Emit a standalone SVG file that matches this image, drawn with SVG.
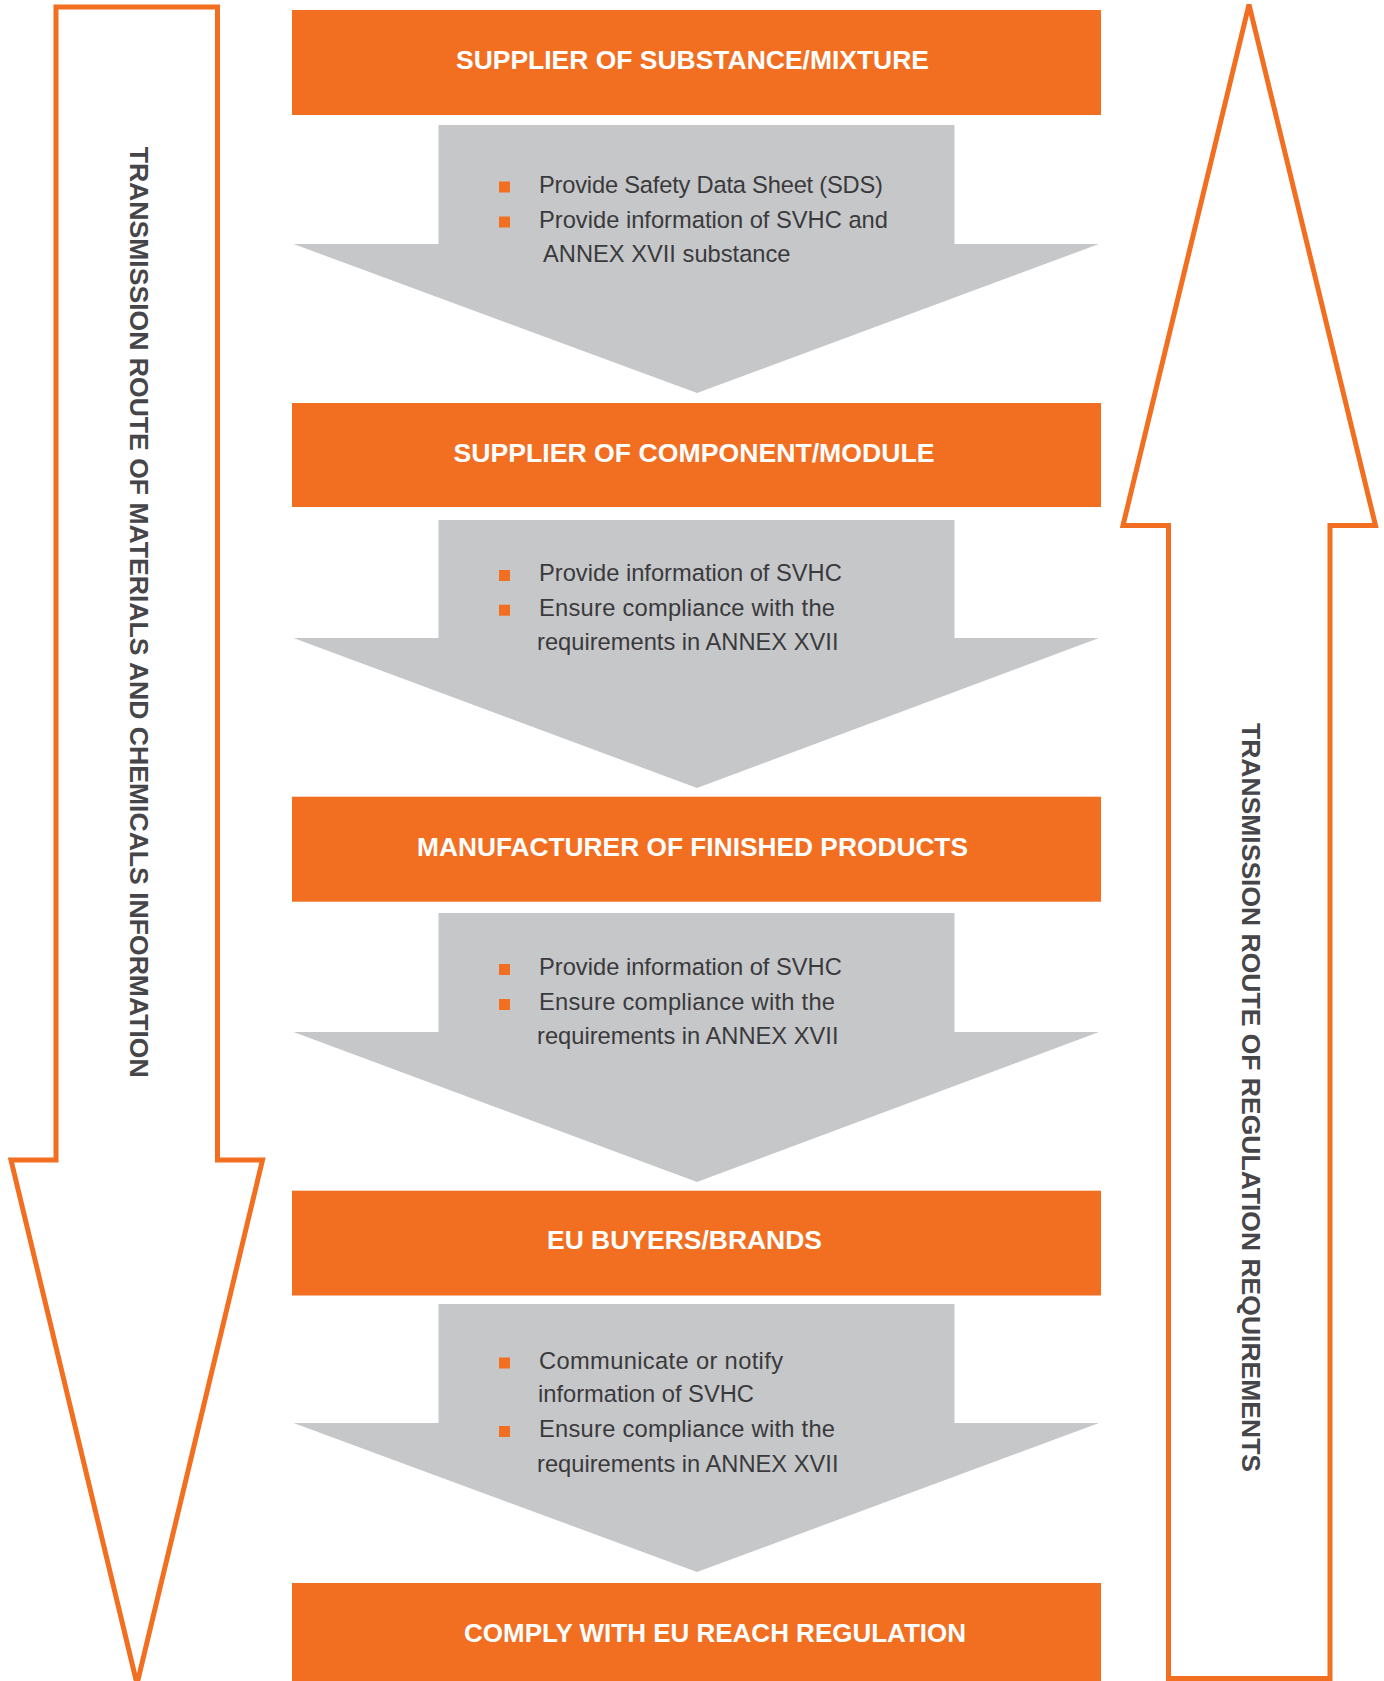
<svg xmlns="http://www.w3.org/2000/svg" width="1384" height="1681" viewBox="0 0 1384 1681">
<style>
.box{fill:#F26F22}
.chev{fill:#C6C7C9}
.side{fill:#FFFFFF;stroke:#F26F22;stroke-width:5}
.hdr{font-family:"Liberation Sans",Arial,sans-serif;font-weight:bold;font-size:26px;fill:#FFFFFF}
.body{font-family:"Liberation Sans",Arial,sans-serif;font-size:23.7px;fill:#3A3A3C}
.vert{font-family:"Liberation Sans",Arial,sans-serif;font-weight:bold;font-size:26.5px;fill:#46464A}
.bul{fill:#F26F22}
</style>
<rect width="1384" height="1681" fill="#FFFFFF"/>
<g id="connectors">
  <path id="arrow-down" class="side" d="M56,7 H217.5 V1160 H262.5 L137,1684 L11,1160 H56 Z"/>
  <path id="arrow-up" class="side" d="M1249,4.5 L1375.5,525.5 H1330 V1678.5 H1168.5 V525.5 H1123 Z"/>
  <polygon class="chev" points="438.5,125 954.5,125 954.5,244 1099,244 697,393 293.5,244 438.5,244"/>
  <polygon class="chev" points="438.5,520 954.5,520 954.5,638 1099,638 697,788 293.5,638 438.5,638"/>
  <polygon class="chev" points="438.5,913 954.5,913 954.5,1032 1099,1032 697,1182 293.5,1032 438.5,1032"/>
  <polygon class="chev" points="438.5,1304 954.5,1304 954.5,1423 1099,1423 697,1572 293.5,1423 438.5,1423"/>
</g>
<g id="label-left">
  <text class="vert" transform="translate(130,146.7) rotate(90)" textLength="931" lengthAdjust="spacingAndGlyphs">TRANSMISSION ROUTE OF MATERIALS AND CHEMICALS INFORMATION</text>
</g>
<g id="label-right">
  <text class="vert" transform="translate(1242,723) rotate(90)" textLength="749" lengthAdjust="spacingAndGlyphs">TRANSMISSION ROUTE OF REGULATION REQUIREMENTS</text>
</g>
<g id="node-supplier-substance">
  <rect class="box" x="292" y="10" width="809" height="105"/>
  <text class="hdr" x="456" y="69" textLength="473" lengthAdjust="spacingAndGlyphs">SUPPLIER OF SUBSTANCE/MIXTURE</text>
</g>
<g id="step-1">
  <rect class="bul" x="499" y="181.5" width="11" height="11"/>
  <rect class="bul" x="499" y="216.5" width="11" height="11"/>
  <text class="body" x="539" y="192.5" textLength="344">Provide Safety Data Sheet (SDS)</text>
  <text class="body" x="539" y="227.5">Provide information of SVHC and</text>
  <text class="body" x="543" y="262">ANNEX XVII substance</text>
</g>
<g id="node-supplier-component">
  <rect class="box" x="292" y="403" width="809" height="104"/>
  <text class="hdr" x="453.5" y="462" textLength="481" lengthAdjust="spacingAndGlyphs">SUPPLIER OF COMPONENT/MODULE</text>
</g>
<g id="step-2">
  <rect class="bul" x="499" y="570" width="11" height="11"/>
  <rect class="bul" x="499" y="604.7" width="11" height="11"/>
  <text class="body" x="539" y="581">Provide information of SVHC</text>
  <text class="body" x="539" y="615.7" textLength="296">Ensure compliance with the</text>
  <text class="body" x="537" y="650">requirements in ANNEX XVII</text>
</g>
<g id="node-manufacturer">
  <rect class="box" x="292" y="796.7" width="809" height="105"/>
  <text class="hdr" x="417" y="855.5" textLength="551" lengthAdjust="spacingAndGlyphs">MANUFACTURER OF FINISHED PRODUCTS</text>
</g>
<g id="step-3">
  <rect class="bul" x="499" y="964" width="11" height="11"/>
  <rect class="bul" x="499" y="999" width="11" height="11"/>
  <text class="body" x="539" y="975">Provide information of SVHC</text>
  <text class="body" x="539" y="1010" textLength="296">Ensure compliance with the</text>
  <text class="body" x="537" y="1044">requirements in ANNEX XVII</text>
</g>
<g id="node-eu-buyers">
  <rect class="box" x="292" y="1190.7" width="809" height="104.8"/>
  <text class="hdr" x="547" y="1248.5" textLength="275" lengthAdjust="spacingAndGlyphs">EU BUYERS/BRANDS</text>
</g>
<g id="step-4">
  <rect class="bul" x="499" y="1357.5" width="11" height="11"/>
  <rect class="bul" x="499" y="1426" width="11" height="11"/>
  <text class="body" x="539" y="1368.5" textLength="244">Communicate or notify</text>
  <text class="body" x="538" y="1402">information of SVHC</text>
  <text class="body" x="539" y="1437" textLength="296">Ensure compliance with the</text>
  <text class="body" x="537" y="1471.5">requirements in ANNEX XVII</text>
</g>
<g id="node-comply">
  <rect class="box" x="292" y="1583" width="809" height="98"/>
  <text class="hdr" x="464" y="1641.5" textLength="502" lengthAdjust="spacingAndGlyphs">COMPLY WITH EU REACH REGULATION</text>
</g>
</svg>
